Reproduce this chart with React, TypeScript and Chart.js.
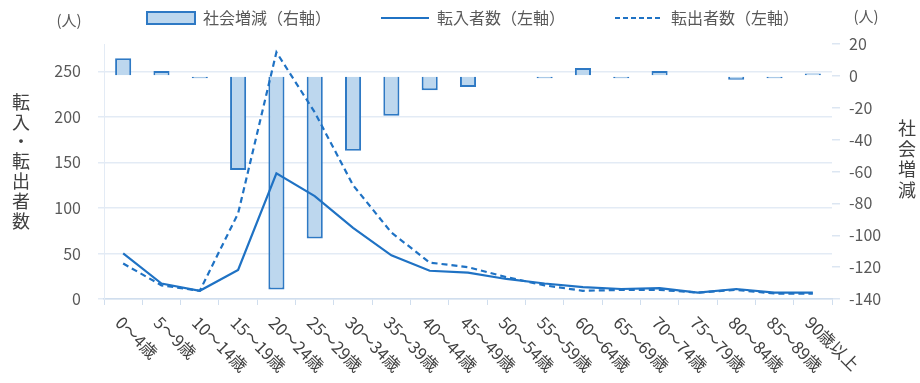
import React, { useEffect, useRef } from "react";
import { Chart, registerables } from "chart.js";
Chart.register(...registerables);

const ageGroups = ["0～4歳", "5～9歳", "10～14歳", "15～19歳", "20～24歳", "25～29歳", "30～34歳", "35～39歳", "40～44歳", "45～49歳", "50～54歳", "55～59歳", "60～64歳", "65～69歳", "70～74歳", "75～79歳", "80～84歳", "85～89歳", "90歳以上"];
const socialChange = [11, 3, -1.5, -59, -134, -102, -47, -25, -9, -7, 0, -1.5, 5, -1.5, 3, 0, -2.5, -1.5, 1.5];
const inflow = [50, 17, 9, 32, 138, 113, 78, 48, 31, 29, 22, 17, 13, 11, 12, 7, 11, 7, 7];
const outflow = [39, 15, 9, 94, 271, 205, 125, 73, 40, 35, 24, 15, 9, 10, 10, 7, 10, 6, 6];

const seriesLabels = ["社会増減（右軸）", "転入者数（左軸）", "転出者数（左軸）"];
const leftTitle = "転入・転出者数";
const rightTitle = "社会増減";
const unitLabel = "(人)";

const FONT = '"Noto Sans CJK JP", "Noto Sans", sans-serif';
const BLUE = "#1F72C4";
const DASH = [6, 4];

const textPlugin = {
  id: "customTexts",
  afterLayout(chart: any) {
    if (chart.legend) {
      chart.legend.left += 5;
      chart.legend.right += 5;
    }
  },
  afterDraw(chart: any) {
    const { ctx, scales } = chart;
    const x = scales.x;
    ctx.save();
    ctx.font = `16.5px ${FONT}`;
    ctx.fillStyle = "#404040";
    ctx.textAlign = "left";
    ctx.textBaseline = "middle";
    ageGroups.forEach((lab, i) => {
      const px = x.getPixelForValue(i);
      ctx.save();
      ctx.translate(px - 4.5, x.top + 20.5);
      ctx.rotate(Math.PI / 4);
      ctx.fillText(lab, 0, 0);
      ctx.restore();
    });
    ctx.fillStyle = "#595959";
    ctx.textAlign = "center";
    ctx.font = `15px ${FONT}`;
    ctx.fillText(unitLabel, 69, 20);
    ctx.fillText(unitLabel, 866, 16);
    ctx.font = `18px ${FONT}`;
    ctx.fillStyle = "#404040";
    Array.from(leftTitle).forEach((ch, i) => {
      ctx.fillText(ch, 21, 102 + i * 19.8);
    });
    Array.from(rightTitle).forEach((ch, i) => {
      ctx.fillText(ch, 907, 128 + i * 20.7);
    });
    ctx.restore();
  },
};

export default function App() {
  const ref = useRef<HTMLCanvasElement | null>(null);
  useEffect(() => {
    if (!ref.current) return;
    const chart = new Chart(ref.current, {
      type: "bar",
      data: {
        labels: ageGroups,
        datasets: [
          {
            type: "bar",
            label: seriesLabels[0],
            data: socialChange,
            yAxisID: "y2",
            backgroundColor: "#BDD7EE",
            borderColor: "#2E79C4",
            borderWidth: 2,
            barPercentage: 0.42,
            categoryPercentage: 1,
            order: 2,
            pointStyle: "rect",
          } as any,
          {
            type: "line",
            label: seriesLabels[1],
            data: inflow,
            yAxisID: "y",
            borderColor: BLUE,
            backgroundColor: BLUE,
            borderWidth: 2.2,
            pointRadius: 0,
            tension: 0,
            fill: false,
            order: 1,
            pointStyle: "line",
          },
          {
            type: "line",
            label: seriesLabels[2],
            data: outflow,
            yAxisID: "y",
            borderColor: BLUE,
            backgroundColor: BLUE,
            borderWidth: 2.2,
            borderDash: DASH,
            pointRadius: 0,
            tension: 0,
            fill: false,
            order: 1,
            pointStyle: "line",
          },
        ],
      },
      options: {
        responsive: false,
        animation: false,
        devicePixelRatio: 1,
        layout: { padding: { top: 0, left: 0, right: 0, bottom: 0 } },
        plugins: {
          tooltip: { enabled: false },
          subtitle: {
            display: true,
            text: "",
            position: "top",
            weight: 500,
            fullSize: false,
            padding: 0,
            font: { size: 8, lineHeight: 1 },
          } as any,
          legend: {
            position: "top",
            fullSize: false,
            labels: {
              font: { family: FONT, size: 16 },
              color: "#595959",
              usePointStyle: true,
              pointStyleWidth: 48,
              boxHeight: 12,
              padding: 10,
              generateLabels: (c: any) => {
                const items = Chart.defaults.plugins.legend.labels.generateLabels(c);
                items.sort((a: any, b: any) => a.datasetIndex - b.datasetIndex);
                items.forEach((it: any, idx: number) => {
                  if (idx < 2) it.text = it.text + "　　　";
                  if (idx === 0) {
                    it.lineWidth = 2;
                    it.strokeStyle = "#2E79C4";
                    it.fillStyle = "#BDD7EE";
                  } else {
                    it.lineWidth = 2.2;
                    it.strokeStyle = BLUE;
                    it.lineDash = idx === 2 ? [5, 3] : [];
                  }
                });
                return items;
              },
            },
          },
        },
        scales: {
          x: {
            grid: {
              drawOnChartArea: false,
              drawTicks: true,
              tickLength: 6,
              color: "#D0DEEE",
              offset: true,
            },
            border: { color: "#D0DEEE", width: 1.5 },
            ticks: { display: false },
            afterFit: (s: any) => {
              s.height = 84;
            },
          },
          y: {
            position: "left",
            min: 0,
            max: 280,
            ticks: {
              stepSize: 50,
              font: { family: FONT, size: 16 },
              color: "#595959",
              padding: 17,
            },
            grid: { color: "#E3EBF5", tickLength: 6, lineWidth: 1.5 },
            border: { color: "#E3EBF5" },
            afterBuildTicks: (s: any) => {
              s.ticks = s.ticks.filter((t: any) => t.value <= 250);
            },
            afterFit: (s: any) => {
              s.width = 104;
            },
          },
          y2: {
            position: "right",
            min: -140,
            max: 20,
            ticks: {
              stepSize: 20,
              font: { family: FONT, size: 16 },
              color: "#595959",
              padding: 9,
            },
            grid: { drawOnChartArea: false, tickLength: 8, color: "#DCE6F2", lineWidth: 1.5 },
            border: { display: false },
            afterFit: (s: any) => {
              s.width = 88;
            },
          },
        },
      },
      plugins: [textPlugin],
    });
    return () => chart.destroy();
  }, []);
  return (
    <div style={{ position: "fixed", left: 0, top: 0, width: 920, height: 383, background: "#fff" }}>
      <canvas ref={ref} width={920} height={383} style={{ display: "block" }} />
    </div>
  );
}
